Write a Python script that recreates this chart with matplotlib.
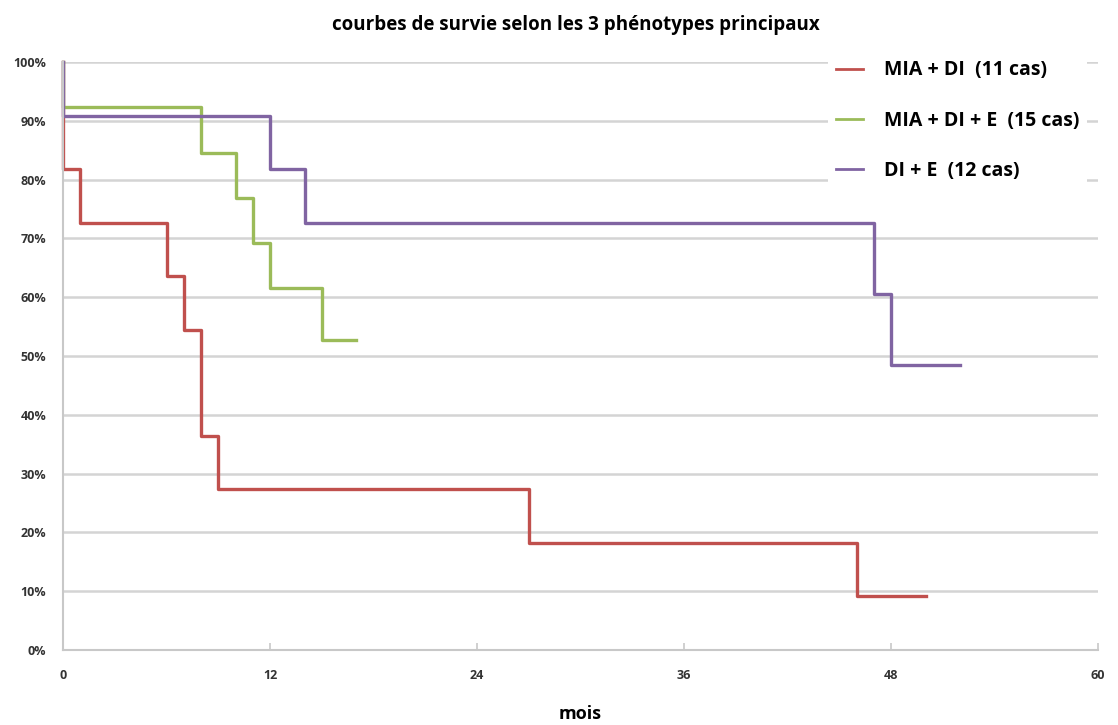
import matplotlib.pyplot as plt
from matplotlib.ticker import FuncFormatter

# survival curves (months, % surviving), step after each time
mia_di_t = [0, 0, 1, 6, 7, 8, 9, 27, 46, 50]
mia_di_s = [100, 81.8, 72.7, 63.6, 54.5, 36.4, 27.3, 18.2, 9.1, 9.1]

mia_di_e_t = [0, 0, 8, 10, 11, 12, 15, 17]
mia_di_e_s = [100, 92.3, 84.6, 76.9, 69.2, 61.5, 52.7, 52.7]

di_e_t = [0, 0, 12, 14, 47, 48, 52]
di_e_s = [100, 90.9, 81.8, 72.7, 60.6, 48.5, 48.5]

labels = ['MIA + DI  (11 cas)', 'MIA + DI + E  (15 cas)', 'DI + E  (12 cas)']
colors = ['#c0504d', '#9bbb59', '#8064a2']

plt.rcParams['font.family'] = ['Open Sans', 'DejaVu Sans']

fig = plt.figure(figsize=(11.18, 7.25), dpi=100)
ax = fig.add_axes([63 / 1118, 75 / 725, 1035 / 1118, 588 / 725])

ax.plot(mia_di_t, mia_di_s, drawstyle='steps-post', color=colors[0], lw=2.4,
        label=labels[0], clip_on=False)
ax.plot(mia_di_e_t, mia_di_e_s, drawstyle='steps-post', color=colors[1], lw=2.4,
        label=labels[1], clip_on=False)
ax.plot(di_e_t, di_e_s, drawstyle='steps-post', color=colors[2], lw=2.4,
        label=labels[2], clip_on=False)

ax.set_xlim(0, 60)
ax.set_ylim(0, 100)
ax.set_xticks([0, 12, 24, 36, 48, 60])
ax.set_yticks(range(0, 101, 10))
ax.yaxis.set_major_formatter(FuncFormatter(lambda v, p: f'{int(v)}%'))
ax.grid(axis='y', color='#d4d4d4', lw=1.8)
ax.set_axisbelow(True)

for s in ['top', 'right']:
    ax.spines[s].set_visible(False)
for s in ['left', 'bottom']:
    ax.spines[s].set_color('#c8c8c8')
    ax.spines[s].set_linewidth(1.5)
ax.tick_params(axis='x', direction='in', length=5, color='#c8c8c8', width=1.2,
               labelsize=9, pad=14)
ax.tick_params(axis='y', length=0, labelsize=9, pad=12)
for lab in ax.get_xticklabels() + ax.get_yticklabels():
    lab.set_fontweight('bold')
    lab.set_color('#333333')

ax.set_xlabel('mois', fontsize=13, fontweight='bold', labelpad=16)
fig.text(0.515, 0.965, 'courbes de survie selon les 3 phénotypes principaux',
         ha='center', va='center', fontsize=13.5, fontweight='bold')

leg = ax.legend(loc='upper left', bbox_to_anchor=(818 / 1118, 1 - 43 / 725),
                bbox_transform=fig.transFigure, frameon=True, facecolor='white',
                edgecolor='none', framealpha=1, fancybox=False,
                prop={'size': 14, 'weight': 'bold'}, handlelength=1.4,
                handletextpad=1.1, labelspacing=1.55, borderpad=0.4)
for line in leg.get_lines():
    line.set_linewidth(2)

fig.savefig('out.png', dpi=100)
